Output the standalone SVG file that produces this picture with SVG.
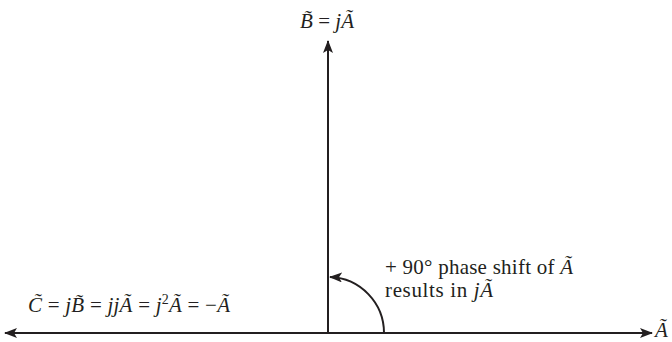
<svg xmlns="http://www.w3.org/2000/svg" width="672" height="342" viewBox="0 0 672 342">
<style>
.t{font-family:"Liberation Serif","DejaVu Serif",serif;font-size:21px;fill:#231f20}
.i{font-style:italic}
.ln{stroke:#231f20;stroke-width:2;fill:none}
</style>
<defs>
<marker id="ah" markerWidth="13" markerHeight="10" refX="12" refY="5" orient="auto" markerUnits="userSpaceOnUse">
<path d="M0,0 L13,5 L0,10 L3,5 Z" fill="#231f20"/>
</marker>
</defs>
<rect width="672" height="342" fill="#fff"/>
<g id="connectors">
<line class="ln" x1="328" y1="333" x2="652" y2="333" marker-end="url(#ah)"/>
<line class="ln" x1="328" y1="333" x2="5" y2="333" marker-end="url(#ah)"/>
<line class="ln" x1="328" y1="333" x2="328" y2="41" marker-end="url(#ah)"/>
<path class="ln" d="M384,333 A56,56 0 0 0 330,277" marker-end="url(#ah)"/>
</g>
<g id="labelB"><text class="t" x="300" y="28" textLength="54" lengthAdjust="spacing"><tspan class="i">B̃</tspan> = <tspan class="i">jÃ</tspan></text></g>
<g id="labelShift"><text class="t" x="385" y="274" textLength="188" lengthAdjust="spacing">+ 90° phase shift of <tspan class="i">Ã</tspan></text>
<text class="t" x="385" y="297" textLength="108" lengthAdjust="spacing">results in <tspan class="i">jÃ</tspan></text></g>
<g id="labelC"><text class="t" x="28" y="312" textLength="202" lengthAdjust="spacing"><tspan class="i">C̃</tspan> = <tspan class="i">jB̃</tspan> = <tspan class="i">jjÃ</tspan> = <tspan class="i">j</tspan><tspan font-size="14" dy="-8">2</tspan><tspan class="i" dy="8">Ã</tspan> = −<tspan class="i">Ã</tspan></text></g>
<g id="labelA"><text class="t i" x="655" y="337" font-size="18">Ã</text></g>
</svg>
